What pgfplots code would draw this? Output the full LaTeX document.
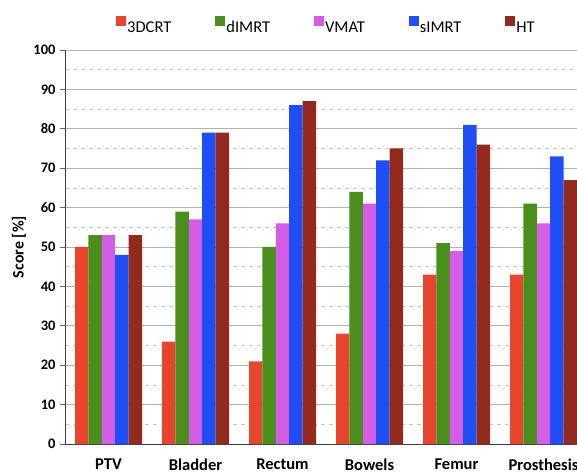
\documentclass[border=0pt]{standalone}
\usepackage{pgfplots}
\pgfplotsset{compat=1.18}
\usepackage{fontspec}
\setmainfont{Carlito}
\definecolor{c1}{HTML}{E8452F}
\definecolor{c2}{HTML}{4A8F1C}
\definecolor{c3}{HTML}{D45DE6}
\definecolor{c4}{HTML}{1F4EF5}
\definecolor{c5}{HTML}{922A1E}
\begin{document}
\begin{tikzpicture}
\useasboundingbox (0pt,0pt) rectangle (577pt,473pt);
\begin{axis}[
  at={(65pt,29pt)}, anchor=south west,
  scale only axis, width=522pt, height=394pt,
  xmin=-0.5, xmax=5.5, ymin=0, ymax=100,
  axis x line*=bottom, axis y line*=left,
  axis line style={draw=black!75, line width=0.9pt},
  ybar=0pt, bar width=13.4pt,
  xtick={0,1,2,3,4,5},
  xticklabels={PTV,Bladder,Rectum,Bowels,Femur,Prosthesis},
  major x tick style={draw=none},
  extra x ticks={-0.5,0.5,1.5,2.5,3.5,4.5},
  extra x tick labels={},
  extra x tick style={major tick length=5pt, tick align=outside, tick style={draw=black!60, line width=0.6pt}, grid=none},
  ytick={0,10,...,100},
  minor y tick num=1,
  ymajorgrids, yminorgrids,
  major grid style={draw=black!30, line width=0.8pt},
  minor grid style={draw=black!22, dashed, dash pattern=on 4pt off 4pt, line width=0.6pt},
  ytick style={draw=black!60, line width=0.6pt},
  minor y tick style={draw=none},
  tick align=outside, major tick length=5pt,
  /pgf/number format/assume math mode=true,
  yticklabel style={font=\bfseries\fontsize{14.5}{16}\selectfont, xshift=-1pt},
  xticklabel style={font=\bfseries\fontsize{16.5}{18}\selectfont, yshift=-6pt},
  ylabel={Score [\%]},
  every axis y label/.style={at={(rel axis cs:0,0.5)}, xshift=-46pt, rotate=90, anchor=center, font=\bfseries\fontsize{16}{18}\selectfont},
  legend columns=5,
  legend style={at={(0.5,1.062)}, anchor=center, draw=none, fill=none,
    font=\fontsize{16.5}{18}\selectfont, nodes={inner sep=1pt}, column sep=0pt,
    /tikz/every even column/.append style={column sep=43pt}},
  legend image code/.code={\fill[#1] (0pt,2pt) rectangle (10pt,12pt);},
  clip=true,
]
\addplot[fill=c1, draw=none] coordinates {(0,50) (1,26) (2,21) (3,28) (4,43) (5,43)};
\addplot[fill=c2, draw=none] coordinates {(0,53) (1,59) (2,50) (3,64) (4,51) (5,61)};
\addplot[fill=c3, draw=none] coordinates {(0,53) (1,57) (2,56) (3,61) (4,49) (5,56)};
\addplot[fill=c4, draw=none] coordinates {(0,48) (1,79) (2,86) (3,72) (4,81) (5,73)};
\addplot[fill=c5, draw=none] coordinates {(0,53) (1,79) (2,87) (3,75) (4,76) (5,67)};
\legend{3DCRT,dIMRT,VMAT,sIMRT,HT}
\end{axis}
\end{tikzpicture}
\end{document}
